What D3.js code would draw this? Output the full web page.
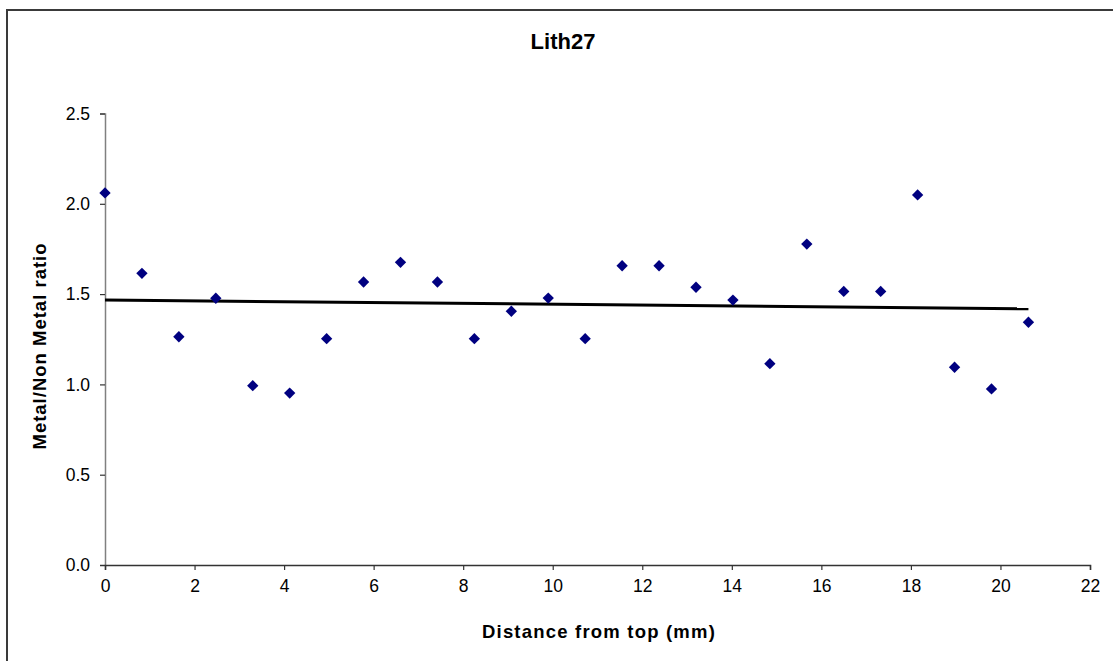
<!DOCTYPE html>
<html>
<head>
<meta charset="utf-8">
<script src="https://cdn.jsdelivr.net/npm/d3@7"></script>
<style>
  html, body { margin: 0; padding: 0; background: #fff; }
  svg { display: block; font-family: "Liberation Sans", Arial, sans-serif; }
</style>
</head>
<body>
<svg id="chart" width="1113" height="661"></svg>
<script>
// Sample depth along the core (mm)
const depthMm = [0, 0.825, 1.65, 2.475, 3.3, 4.125, 4.95, 5.775, 6.6, 7.425,
  8.25, 9.075, 9.9, 10.725, 11.55, 12.375, 13.2, 14.025, 14.85, 15.675,
  16.5, 17.325, 18.15, 18.975, 19.8, 20.625];
// Metal / non-metal ratio at each depth
const ratio = [2.06, 1.615, 1.264, 1.477, 0.993, 0.952, 1.253, 1.567, 1.676, 1.567,
  1.253, 1.405, 1.478, 1.253, 1.657, 1.657, 1.538, 1.467, 1.115, 1.777,
  1.515, 1.515, 2.049, 1.095, 0.975, 1.344];
const xTicks = [0, 2, 4, 6, 8, 10, 12, 14, 16, 18, 20, 22];
const yTicks = [0, 0.5, 1.0, 1.5, 2.0, 2.5];

const svg = d3.select("#chart");

// Chart frame
svg.append("rect")
  .attr("x", 7).attr("y", 10)
  .attr("width", 1140).attr("height", 700)
  .attr("fill", "#fff")
  .attr("stroke", "#3a3a3a")
  .attr("stroke-width", 2);

const x = d3.scaleLinear().domain([0, 22]).range([105, 1090]);
const y = d3.scaleLinear().domain([0, 2.5]).range([565, 113.5]);

// Y axis
const yAxis = svg.append("g")
  .attr("transform", `translate(${x(0)},0)`)
  .call(d3.axisLeft(y).tickValues(yTicks).tickFormat(d3.format(".1f")).tickSizeOuter(0).tickSize(5).tickPadding(10));
yAxis.select(".domain").attr("stroke", "#808080").attr("stroke-width", 1.5);
yAxis.selectAll(".tick line").attr("stroke", "#333").attr("stroke-width", 1.2);
yAxis.selectAll(".tick text").attr("font-size", 17.5).attr("fill", "#000")
  .attr("font-family", "'Liberation Sans', Arial, sans-serif");

// X axis
const xAxis = svg.append("g")
  .attr("transform", `translate(0,${y(0)})`)
  .call(d3.axisBottom(x).tickValues(xTicks).tickFormat(d3.format("d")).tickSizeOuter(0).tickSize(5).tickPadding(10));
xAxis.select(".domain").attr("stroke", "#333").attr("stroke-width", 1.5);
xAxis.selectAll(".tick line").attr("stroke", "#333").attr("stroke-width", 1.2);
xAxis.selectAll(".tick text").attr("font-size", 17.5).attr("fill", "#000")
  .attr("font-family", "'Liberation Sans', Arial, sans-serif");

// Linear least-squares trend of ratio against depth
const n = depthMm.length;
const mx = d3.mean(depthMm), my = d3.mean(ratio);
let sxy = 0, sxx = 0;
for (let i = 0; i < n; i++) {
  sxy += (depthMm[i] - mx) * (ratio[i] - my);
  sxx += (depthMm[i] - mx) * (depthMm[i] - mx);
}
const slope = sxy / sxx;
const intercept = my - slope * mx;
const trendX = d3.extent(depthMm);
svg.append("path")
  .datum(trendX.map(d => [d, intercept + slope * d]))
  .attr("d", d3.line().x(d => x(d[0])).y(d => y(d[1])))
  .attr("fill", "none")
  .attr("stroke", "#000")
  .attr("stroke-width", 3);

// Data points as diamonds
const diamond = d3.symbol().type(d3.symbolSquare).size(64);
svg.append("g")
  .selectAll("path")
  .data(depthMm.map((d, i) => [d, ratio[i]]))
  .join("path")
  .attr("d", diamond)
  .attr("transform", d => `translate(${x(d[0])},${y(d[1])}) rotate(45)`)
  .attr("fill", "#000080");

// Titles
svg.append("text")
  .attr("x", 563).attr("y", 49)
  .attr("text-anchor", "middle")
  .attr("font-size", 22).attr("font-weight", "bold")
  .text("Lith27");

svg.append("text")
  .attr("x", 599).attr("y", 638)
  .attr("text-anchor", "middle")
  .attr("font-size", 18.5).attr("font-weight", "bold")
  .attr("letter-spacing", 1.2)
  .text("Distance from top (mm)");

svg.append("text")
  .attr("transform", "translate(46,346) rotate(-90)")
  .attr("text-anchor", "middle")
  .attr("font-size", 18.5).attr("font-weight", "bold")
  .attr("letter-spacing", 1)
  .text("Metal/Non Metal ratio");
</script>
</body>
</html>
